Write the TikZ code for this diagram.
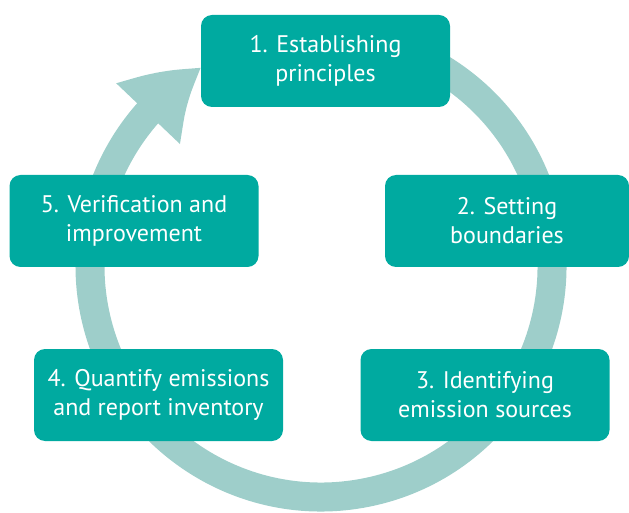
\documentclass[tikz,border=0pt]{standalone}
\usepackage{fontspec}
\setmainfont{PT Sans}
\usepackage{xcolor}
\usetikzlibrary{arrows.meta,bending}
\definecolor{boxteal}{RGB}{0,170,160}
\definecolor{ringteal}{RGB}{158,206,202}

\begin{document}
\begin{tikzpicture}[
  x=1pt, y=1pt,
  every node/.style={font=\fontsize{24}{29}\selectfont},
  stage/.style={fill=boxteal, text=white, rounded corners=11pt, align=center, minimum width=249pt, minimum height=92pt, inner sep=0pt},
  ringflow/.style={draw=ringteal, line width=29pt, -{Triangle[width=82pt, length=72pt, bend]}}
]
\useasboundingbox (0,0) rectangle (629,512);
\coordinate (hub) at (321,246);

% the cycle ring, ending in the arrow into stage 1
\draw[ringflow] ([shift={(100:231)}]hub) arc[start angle=100, end angle=-239, radius=231];

\node[stage] (principles) at (325.5,451) {1. Establishing\\principles};
\node[stage, minimum width=244pt] (boundaries) at (507,291) {2. Setting\\boundaries};
\node[stage] (sources) at (485,117) {3. Identifying\\emission sources};
\node[stage] (quantify) at (158.5,117) {4. Quantify emissions\\and report inventory};
\node[stage] (verify) at (134,291) {5. Verification and\\improvement};
\end{tikzpicture}
\end{document}
